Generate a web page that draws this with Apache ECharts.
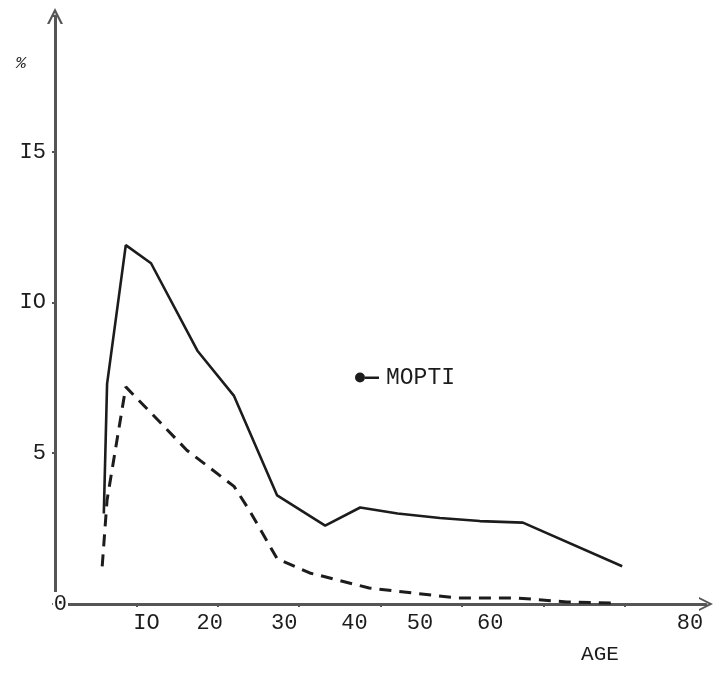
<!DOCTYPE html>
<html>
<head>
<meta charset="utf-8">
<script src="https://cdn.jsdelivr.net/npm/echarts@6/dist/echarts.min.js"></script>
<style>
  html, body { margin: 0; padding: 0; background: #ffffff; }
  #chart { width: 723px; height: 679px; }
</style>
</head>
<body>
<div id="chart"></div>
<script>
// Age (years) and percentage values
const solidAges   = [6.0, 6.4, 8.7, 11.8, 17.5, 22.0, 27.3, 33.2, 37.5, 42.1, 47.3, 52.2, 57.5, 69.7];
const solidValues = [3.0, 7.3, 11.9, 11.3, 8.4, 6.9, 3.6, 2.6, 3.2, 3.0, 2.85, 2.75, 2.7, 1.25];

const dashedAges   = [5.8, 6.4, 8.7, 13.0, 16.2, 22.0, 23.9, 27.3, 31.3, 38.6, 49.4, 56.7, 62.9, 68.6];
const dashedValues = [1.25, 3.45, 7.2, 6.0, 5.1, 3.9, 3.1, 1.5, 1.03, 0.53, 0.2, 0.2, 0.07, 0.03];

const xTickLabels = {10: 'IO', 20: '20', 30: '30', 40: '40', 50: '50', 60: '60', 80: '80'};
const yTickLabels = {5: '5', 10: 'IO', 15: 'I5'};
const seriesName = 'MOPTI';

const font = '"Liberation Mono", "DejaVu Sans Mono", monospace';
const ink = '#1c1c1c';
const axisInk = '#555555';
const chevron = 'path://M0,20 L10,0 L20,20 L17,20 L10,6 L3,20 Z';

// the typed tick labels sit off their ticks in the original: shift each one by rich-text padding
const labelShift = {10: 10, 20: -8, 30: -15, 40: -26, 50: -42, 60: -53, 80: -16};
const xRich = {};
Object.keys(xTickLabels).forEach(k => {
  const d = labelShift[k];
  xRich['t' + k] = {
    fontFamily: font, fontSize: 22, color: ink,
    padding: [k === '80' ? 0 : 0, d < 0 ? -2 * d : 0, k === '80' ? 10 : 0, d > 0 ? 2 * d : 0]
  };
});

const chart = echarts.init(document.getElementById('chart'), null, {renderer: 'canvas'});
chart.setOption({
  backgroundColor: '#ffffff',
  animation: false,
  grid: {left: 55, right: 17, top: 16, bottom: 75},
  legend: {
    data: [{name: seriesName, icon: 'path://M0,5 A5,5 0 1,1 10,5 A5,5 0 1,1 0,5 Z M10,4 L24,4 L24,6.5 L10,6.5 Z'}],
    left: 350, top: 361,
    itemWidth: 24, itemHeight: 11, itemGap: 10,
    textStyle: {fontFamily: font, fontSize: 23, color: ink, padding: [0, 0, 0, 2]}
  },
  xAxis: {
    type: 'value', min: 0, max: 80, interval: 10,
    name: 'AGE', nameLocation: 'end', nameGap: -106,
    nameTextStyle: {fontFamily: font, fontSize: 21, color: ink, align: 'center', verticalAlign: 'top', padding: [40, 0, 0, 0]},
    axisLine: {show: true, lineStyle: {color: axisInk, width: 3}, symbol: ['none', chevron], symbolSize: [16, 14]},
    axisTick: {show: true, length: 3, lineStyle: {color: axisInk, width: 2}},
    splitLine: {show: false},
    axisLabel: {
      margin: 8, rich: xRich,
      formatter: v => (xTickLabels[v] ? '{t' + v + '|' + xTickLabels[v] + '}' : '')
    }
  },
  yAxis: [{
    type: 'value', min: 0, max: 19.5, interval: 5,
    name: '%', nameLocation: 'end', nameGap: -56,
    nameTextStyle: {fontFamily: font, fontSize: 17, color: ink, align: 'right', padding: [0, 29, 0, 0], fontStyle: 'italic'},
    axisLine: {show: true, lineStyle: {color: axisInk, width: 3}, symbol: ['none', chevron], symbolSize: [18, 16]},
    axisTick: {show: true, length: 3, lineStyle: {color: axisInk, width: 2}},
    splitLine: {show: false},
    axisLabel: {
      margin: 9, fontFamily: font, fontSize: 22, color: ink,
      formatter: v => yTickLabels[v] || ''
    }
  }, {
    type: 'value', min: 0, max: 19.5, interval: 5, position: 'left', z: 5,
    axisLine: {show: false}, axisTick: {show: false}, splitLine: {show: false},
    axisLabel: {
      margin: -13, fontFamily: font, fontSize: 22, color: ink,
      backgroundColor: '#ffffff', padding: [2, 1, 0, 1],
      formatter: v => (v === 0 ? '0' : '')
    }
  }],
  series: [{
    name: seriesName, type: 'line',
    data: solidAges.map((a, i) => [a, solidValues[i]]),
    showSymbol: false, symbol: 'circle',
    itemStyle: {color: ink},
    lineStyle: {color: ink, width: 2.6, type: 'solid'},
    z: 3
  }, {
    name: seriesName + ' (tirets)', type: 'line',
    data: dashedAges.map((a, i) => [a, dashedValues[i]]),
    showSymbol: false,
    itemStyle: {color: ink},
    lineStyle: {color: ink, width: 3, type: [12, 8]},
    z: 3
  }]
});
</script>
</body>
</html>
